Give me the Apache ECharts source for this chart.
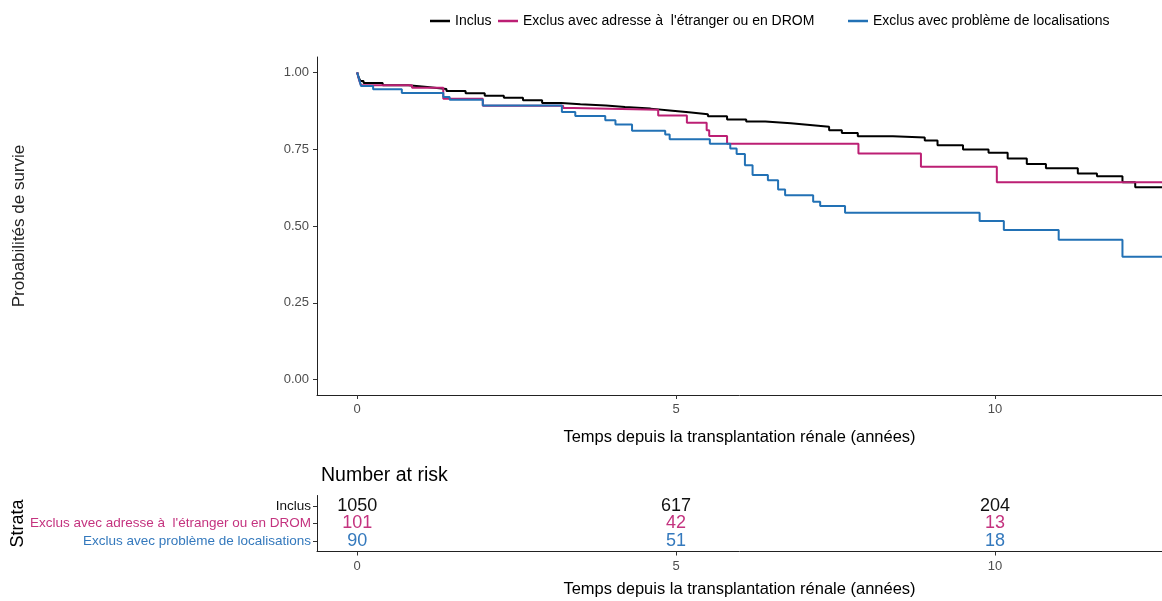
<!DOCTYPE html>
<html>
<head>
<meta charset="utf-8">
<script src="https://cdn.jsdelivr.net/npm/echarts@6/dist/echarts.min.js"></script>
<style>
  html, body { margin: 0; padding: 0; background: #fff; }
  #chart { width: 1162px; height: 601px; }
</style>
</head>
<body>
<div id="chart"></div>
<script>
// Kaplan-Meier survival by group (time in years, survival probability after each step)
const strata = [
  'Inclus',
  'Exclus avec adresse à  l\'étranger ou en DROM',
  'Exclus avec problème de localisations'
];

const inclusTime = [0, 0.02, 0.05, 0.1, 0.4, 0.8, 1.1, 1.4, 1.7, 2.0, 2.3, 2.6, 2.9, 3.2, 3.5, 3.9, 4.2, 4.6, 4.9, 5.2, 5.5, 5.8, 6.1, 6.4, 6.8, 7.1, 7.4, 7.6, 7.85, 8.4, 8.9, 9.1, 9.5, 9.9, 10.2, 10.5, 10.8, 11.3, 11.6, 12.0, 12.2, 12.62];
const inclusSurv = [1.0, 0.985, 0.972, 0.965, 0.958, 0.952, 0.946, 0.939, 0.932, 0.924, 0.917, 0.909, 0.900, 0.896, 0.892, 0.887, 0.882, 0.876, 0.870, 0.864, 0.857, 0.847, 0.840, 0.834, 0.829, 0.823, 0.812, 0.803, 0.792, 0.788, 0.778, 0.763, 0.749, 0.738, 0.720, 0.702, 0.688, 0.671, 0.662, 0.642, 0.626, 0.626];

const dromTime = [0, 0.03, 0.06, 0.86, 1.35, 1.97, 3.23, 3.39, 4.72, 5.17, 5.48, 5.52, 5.8, 7.86, 8.84, 10.03, 12.62];
const dromSurv = [1.0, 0.975, 0.958, 0.950, 0.914, 0.891, 0.884, 0.878, 0.860, 0.836, 0.812, 0.793, 0.768, 0.736, 0.693, 0.642, 0.642];

const locTime = [0, 0.03, 0.06, 0.25, 0.7, 1.35, 1.45, 1.97, 3.21, 3.42, 3.89, 4.05, 4.31, 4.83, 4.9, 5.53, 5.85, 5.95, 6.08, 6.2, 6.44, 6.6, 6.71, 7.15, 7.26, 7.65, 9.76, 10.14, 11.0, 12.0, 12.62];
const locSurv = [1.0, 0.978, 0.956, 0.945, 0.933, 0.920, 0.911, 0.892, 0.871, 0.858, 0.844, 0.830, 0.810, 0.798, 0.782, 0.768, 0.752, 0.734, 0.698, 0.666, 0.649, 0.619, 0.600, 0.579, 0.565, 0.543, 0.516, 0.487, 0.455, 0.400, 0.400];

// Number at risk table
const riskTimes = [0, 5, 10];
const riskInclus = [1050, 617, 204];
const riskDrom = [101, 42, 13];
const riskLoc = [90, 51, 18];

const xTicks = [0, 5, 10];
const yTicks = [0, 0.25, 0.5, 0.75, 1.0];

const lineColors = ['#000000', '#BC1F74', '#2271B5'];
const textColors = ['#111111', '#C4337F', '#3479BD'];

const pairs = (t, v) => t.map((x, i) => [x, v[i]]);
const riskRow = (counts, row) => riskTimes.map((t, i) => [t, row, counts[i]]);

const FONT = '"Liberation Sans", Arial, sans-serif';
const lineStyle = { color: '#222', width: 1 };
const tickStyle = { show: true, length: 4, lineStyle: { color: '#333', width: 1 } };
const xAxisTitle = 'Temps depuis la transplantation rénale (années)';

const chart = echarts.init(document.getElementById('chart'), null, { renderer: 'canvas' });

const option = {
  backgroundColor: '#fff',
  animation: false,
  textStyle: { fontFamily: FONT },
  title: {
    text: 'Number at risk',
    left: 316, top: 461,
    textStyle: { fontFamily: FONT, fontSize: 19.5, fontWeight: 'normal', color: '#000' }
  },
  legend: [
    { data: [strata[0]], left: 425, top: 9 },
    { data: [strata[1]], left: 493, top: 9 },
    { data: [strata[2]], left: 843, top: 9 }
  ].map(l => Object.assign(l, {
    icon: 'rect', itemWidth: 20, itemHeight: 2.5,
    textStyle: { fontFamily: FONT, fontSize: 14, color: '#000' },
    selectedMode: false
  })),
  grid: [
    { left: 317, top: 57, right: 0, height: 338, outerBoundsMode: 'none', containLabel: false },
    { left: 317, top: 495.5, right: 0, height: 56, outerBoundsMode: 'none', containLabel: false }
  ],
  xAxis: [
    {
      gridIndex: 0, type: 'value', min: -0.63, max: 12.62,
      axisLine: { show: true, onZero: false, lineStyle: lineStyle },
      axisTick: Object.assign({ customValues: xTicks }, tickStyle),
      axisLabel: { customValues: xTicks, color: '#4d4d4d', fontSize: 13, margin: 8 },
      splitLine: { show: false },
      name: xAxisTitle, nameLocation: 'middle', nameGap: 34,
      nameTextStyle: { fontFamily: FONT, fontSize: 16.5, color: '#000' }
    },
    {
      gridIndex: 1, type: 'value', min: -0.63, max: 12.62,
      axisLine: { show: true, onZero: false, lineStyle: lineStyle },
      axisTick: Object.assign({ customValues: xTicks }, tickStyle),
      axisLabel: { customValues: xTicks, color: '#4d4d4d', fontSize: 13, margin: 8 },
      splitLine: { show: false },
      name: xAxisTitle, nameLocation: 'middle', nameGap: 29,
      nameTextStyle: { fontFamily: FONT, fontSize: 16.5, color: '#000' }
    }
  ],
  yAxis: [
    {
      gridIndex: 0, type: 'value', min: -0.05, max: 1.05,
      axisLine: { show: true, onZero: false, lineStyle: lineStyle },
      axisTick: Object.assign({ customValues: yTicks }, tickStyle),
      axisLabel: {
        customValues: yTicks, color: '#4d4d4d', fontSize: 13, margin: 8,
        formatter: v => v.toFixed(2)
      },
      splitLine: { show: false },
      name: 'Probabilités de survie', nameLocation: 'middle', nameGap: 289,
      nameMoveOverlap: false,
      nameTextStyle: { fontFamily: FONT, fontSize: 17, color: '#222' }
    },
    {
      gridIndex: 1, type: 'value', min: 0.4, max: 3.6, inverse: true,
      axisLine: { show: true, onZero: false, lineStyle: lineStyle },
      axisTick: Object.assign({ customValues: [1, 2, 3] }, tickStyle),
      axisLabel: {
        customValues: [1, 2, 3], fontSize: 13.5, margin: 6,
        formatter: v => strata[Math.round(v) - 1],
        color: v => textColors[Math.round(v) - 1]
      },
      splitLine: { show: false },
      name: 'Strata', nameLocation: 'middle', nameGap: 290,
      nameMoveOverlap: false,
      nameTextStyle: { fontFamily: FONT, fontSize: 18, color: '#000' }
    }
  ],
  series: [
    { data: pairs(inclusTime, inclusSurv), name: strata[0], color: lineColors[0] },
    { data: pairs(dromTime, dromSurv), name: strata[1], color: lineColors[1] },
    { data: pairs(locTime, locSurv), name: strata[2], color: lineColors[2] }
  ].map(s => Object.assign(s, {
    type: 'line', step: 'end', showSymbol: false, symbol: 'none',
    xAxisIndex: 0, yAxisIndex: 0, clip: true,
    lineStyle: { width: 2, color: s.color }, itemStyle: { color: s.color }
  })).concat(
    [riskInclus, riskDrom, riskLoc].map((counts, i) => ({
      type: 'scatter', xAxisIndex: 1, yAxisIndex: 1,
      symbolSize: 0, silent: true,
      itemStyle: { opacity: 1 },
      data: riskRow(counts, i + 1),
      label: {
        show: true, position: 'inside',
        formatter: p => String(p.value[2]),
        fontFamily: FONT, fontSize: 18, color: textColors[i], opacity: 1
      }
    }))
  )
};

chart.setOption(option);
</script>
</body>
</html>
